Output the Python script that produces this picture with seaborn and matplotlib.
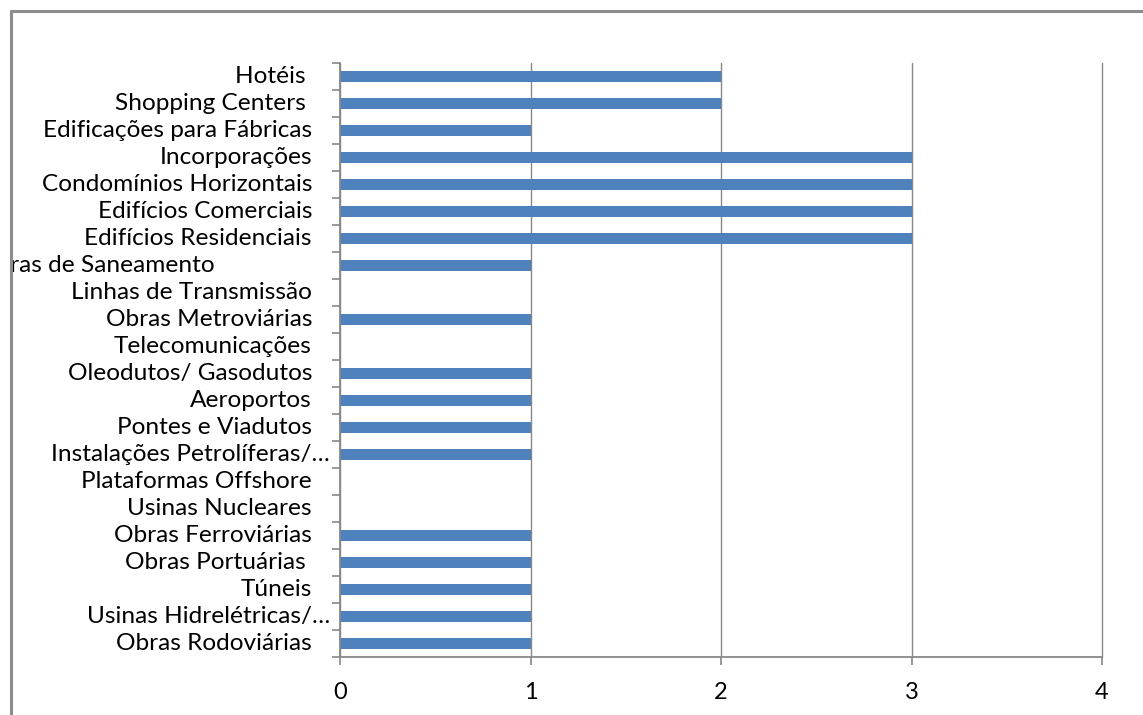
import numpy as np
import pandas as pd
import matplotlib
matplotlib.use("Agg")
import matplotlib.pyplot as plt
import matplotlib.transforms as mtransforms
from matplotlib.lines import Line2D
import seaborn as sns

# categories top -> bottom, as in the picture
categories = [
    "Hotéis ", "Shopping Centers ", "Edificações para Fábricas", "Incorporações",
    "Condomínios Horizontais", "Edifícios Comerciais", "Edifícios Residenciais",
    "Obras de Saneamento", "Linhas de Transmissão", "Obras Metroviárias",
    "Telecomunicações", "Oleodutos/ Gasodutos", "Aeroportos", "Pontes e Viadutos",
    "Instalações Petrolíferas/…", "Plataformas Offshore", "Usinas Nucleares",
    "Obras Ferroviárias", "Obras Portuárias ", "Túneis", "Usinas Hidrelétricas/…",
    "Obras Rodoviárias",
]
values = [2, 2, 1, 3, 3, 3, 3, 1, 0, 1, 0, 1, 1, 1, 1, 0, 0, 1, 1, 1, 1, 1]
xticks = [0, 1, 2, 3, 4]

df = pd.DataFrame({"Categoria": categories, "Valor": values})

sns.set_theme(style="white")
plt.rcParams["font.family"] = ["Lato", "DejaVu Sans"]

W, H = 1143, 715
fig = plt.figure(figsize=(W / 100, H / 100), dpi=100)
ax = fig.add_axes([340 / W, 1 - 657 / H, (1102 - 340) / W, (657 - 63) / H])

sns.barplot(data=df, y="Categoria", x="Valor", orient="h", color="#4F81BD",
            width=0.4, saturation=1, linewidth=0, ax=ax)

grey = "#888888"
ax.set_xlim(0, 4)
ax.set_ylim(len(categories) - 0.5, -0.5)
ax.set_xticks(xticks)
ax.set_xticklabels([str(t) for t in xticks], fontsize=17)
ax.set_yticks(np.arange(-0.5, len(categories), 1))
ax.set_yticklabels([])
ax.set_xlabel("")
ax.set_ylabel("")
ax.xaxis.grid(True, color=grey, linewidth=1)
ax.set_axisbelow(True)
for gl in ax.xaxis.get_gridlines():
    gl.set_clip_on(False)
for side in ["top", "right"]:
    ax.spines[side].set_visible(False)
for side in ["left", "bottom"]:
    ax.spines[side].set_color(grey)
    ax.spines[side].set_linewidth(1.3)
ax.tick_params(axis="y", direction="out", length=6, width=1.2, color=grey, left=True)
ax.tick_params(axis="x", direction="out", length=6, width=1.2, color=grey,
               bottom=True, pad=12, labelcolor="black")

# category labels drawn by hand so their right edges follow the original
blend = mtransforms.blended_transform_factory(ax.transAxes, ax.transData)
clip = mtransforms.Bbox.from_extents(11, 0, W, H)
for i, lab in enumerate(categories):
    if lab.endswith("…"):
        xr = 330
    elif lab == "Obras de Saneamento":
        xr = 215
    else:
        xr = 312
    t = ax.text((xr - 340) / (1102 - 340), i, lab, transform=blend,
                ha="right", va="center", fontsize=17.6, color="black", clip_on=False)
    if lab == "Obras de Saneamento":
        t.set_clip_box(mtransforms.TransformedBbox(clip, mtransforms.IdentityTransform()))
        t.set_clip_on(True)

# outer chart frame (left and top edges visible)
fig.add_artist(Line2D([11 / W, 11 / W], [0, 1 - 11 / H], color="#8c8c8c", linewidth=2.2,
                      transform=fig.transFigure))
fig.add_artist(Line2D([11 / W, 1], [1 - 11 / H, 1 - 11 / H], color="#8c8c8c", linewidth=2.2,
                      transform=fig.transFigure))

fig.savefig("out.png", dpi=100)
